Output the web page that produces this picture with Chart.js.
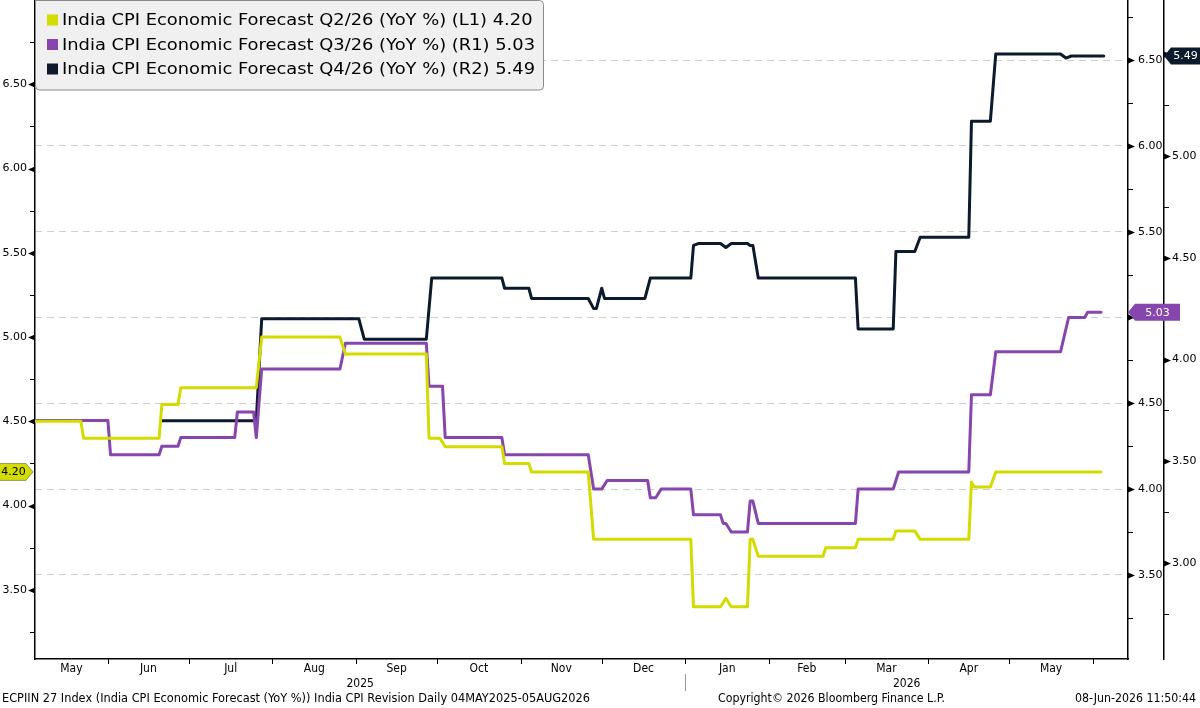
<!DOCTYPE html>
<html>
<head>
<meta charset="utf-8">
<script src="https://cdn.jsdelivr.net/npm/chart.js@4.4.1/dist/chart.umd.min.js"></script>
<style>
html,body{margin:0;padding:0;background:#ffffff;}
#wrap{width:1200px;height:708px;position:relative;}
</style>
</head>
<body>
<div id="wrap"><canvas id="c" width="1200" height="708"></canvas></div>
<script>
// ---------------- DATA ----------------
const q2Label = 'India CPI Economic Forecast Q2/26 (YoY %) (L1)';
const q2Dates = ['2025-05-05','2025-05-22','2025-05-23','2025-06-20','2025-06-21','2025-06-27','2025-06-28','2025-07-26','2025-07-28','2025-08-26','2025-08-28','2025-09-27','2025-09-28','2025-10-02','2025-10-04','2025-10-25','2025-10-26','2025-11-04','2025-11-05','2025-11-26','2025-11-28','2026-01-03','2026-01-04','2026-01-14','2026-01-16','2026-01-18','2026-01-24','2026-01-25','2026-01-26','2026-01-28','2026-02-21','2026-02-22','2026-03-05','2026-03-06','2026-03-19','2026-03-20','2026-03-27','2026-03-29','2026-04-16','2026-04-17','2026-04-18','2026-04-24','2026-04-26','2026-06-04'];
const q2Values = [4.50,4.50,4.40,4.40,4.60,4.60,4.70,4.70,5.00,5.00,4.90,4.90,4.40,4.40,4.35,4.35,4.25,4.25,4.20,4.20,3.80,3.80,3.40,3.40,3.45,3.40,3.40,3.80,3.80,3.70,3.70,3.75,3.75,3.80,3.80,3.85,3.85,3.80,3.80,4.14,4.11,4.11,4.20,4.20];

const q3Label = 'India CPI Economic Forecast Q3/26 (YoY %) (R1)';
const q3Dates = ['2025-05-05','2025-06-01','2025-06-02','2025-06-20','2025-06-21','2025-06-27','2025-06-28','2025-07-18','2025-07-19','2025-07-25','2025-07-26','2025-07-28','2025-08-26','2025-08-28','2025-09-27','2025-09-28','2025-10-03','2025-10-04','2025-10-25','2025-10-26','2025-11-26','2025-11-28','2025-12-01','2025-12-03','2025-12-18','2025-12-19','2025-12-21','2025-12-23','2026-01-03','2026-01-04','2026-01-14','2026-01-15','2026-01-16','2026-01-18','2026-01-24','2026-01-25','2026-01-26','2026-01-28','2026-03-05','2026-03-06','2026-03-19','2026-03-21','2026-04-16','2026-04-17','2026-04-24','2026-04-26','2026-05-20','2026-05-23','2026-05-29','2026-05-30','2026-06-04'];
const q3Values = [4.40,4.40,4.20,4.20,4.25,4.25,4.30,4.30,4.45,4.45,4.30,4.70,4.70,4.85,4.85,4.60,4.60,4.30,4.30,4.20,4.20,4.00,4.00,4.05,4.05,3.95,3.95,4.00,4.00,3.85,3.85,3.80,3.80,3.75,3.75,3.93,3.93,3.80,3.80,4.00,4.00,4.10,4.10,4.55,4.55,4.80,4.80,5.00,5.00,5.03,5.03];

const q4Label = 'India CPI Economic Forecast Q4/26 (YoY %) (R2)';
const q4Dates = ['2025-06-21','2025-07-26','2025-07-28','2025-09-02','2025-09-04','2025-09-27','2025-09-29','2025-10-25','2025-10-26','2025-11-04','2025-11-05','2025-11-26','2025-11-28','2025-11-29','2025-12-01','2025-12-02','2025-12-17','2025-12-19','2026-01-03','2026-01-04','2026-01-06','2026-01-14','2026-01-16','2026-01-18','2026-01-24','2026-01-25','2026-01-26','2026-01-28','2026-03-05','2026-03-06','2026-03-19','2026-03-20','2026-03-27','2026-03-29','2026-04-16','2026-04-17','2026-04-24','2026-04-26','2026-05-20','2026-05-22','2026-05-24','2026-06-05'];
const q4Values = [3.70,3.70,4.20,4.20,4.10,4.10,4.40,4.40,4.35,4.35,4.30,4.30,4.25,4.25,4.35,4.30,4.30,4.40,4.40,4.56,4.57,4.57,4.55,4.57,4.57,4.56,4.56,4.40,4.40,4.15,4.15,4.53,4.53,4.60,4.60,5.17,5.17,5.50,5.50,5.48,5.49,5.49];

const monthLabels = ['May','Jun','Jul','Aug','Sep','Oct','Nov','Dec','Jan','Feb','Mar','Apr','May'];
const monthStarts = ['2025-05-01','2025-06-01','2025-07-01','2025-08-01','2025-09-01','2025-10-01','2025-11-01','2025-12-01','2026-01-01','2026-02-01','2026-03-01','2026-04-01','2026-05-01','2026-06-01'];
const yearLabels = ['2025','2026'];
const yearStarts = ['2025-01-01','2026-01-01','2027-01-01'];
const axisStartDate = '2025-05-05';
const axisEndDate = '2026-06-14';

const leftRange = [3.09, 7.0];
const right1Range = [3.01, 6.85];
const right2Range = [2.53, 5.765];

const footerLeft = 'ECPIIN 27 Index (India CPI Economic Forecast (YoY %)) India CPI Revision Daily 04MAY2025-05AUG2026';
const footerMid = 'Copyright\u00A9 2026 Bloomberg Finance L.P.';
const footerRight = '08-Jun-2026 11:50:44';

// ---------------- HELPERS ----------------
const ORIGIN = Date.UTC(2025, 4, 4);
function dayNum(s){ const p = s.split('-').map(Number); return (Date.UTC(p[0], p[1]-1, p[2]) - ORIGIN) / 86400000; }
function toPoints(dates, values){ return dates.map((d,i)=>({x: dayNum(d), y: values[i]})); }

const COL_Q2 = '#d3db00';
const COL_Q3 = '#8646ad';
const COL_Q4 = '#0c1a2c';
const FONT = '"DejaVu Sans", Verdana, sans-serif';
const NARROW = '"Liberation Sans Narrow", "DejaVu Sans Condensed", "Liberation Sans", sans-serif';

const xMin = dayNum(axisStartDate), xMax = dayNum(axisEndDate);
const monthMids = monthLabels.map((m,i)=> (Math.max(dayNum(monthStarts[i]), xMin) + dayNum(monthStarts[i+1])) / 2);

function quarterTicks(min, max){
  const out = [];
  for (let k = Math.ceil(min*4); k <= Math.floor(max*4); k++) {
    const v = k/4;
    if (v - min < 0.03 || max - v < 0.03) continue;
    out.push({value: v});
  }
  return out;
}
function isMajor(v){ return Math.abs(v*2 - Math.round(v*2)) < 1e-6; }
function fmtTick(v){ return isMajor(v) ? Number(v).toFixed(2) : ''; }

function yScale(position, range, weight, padding, gridOn){
  return {
    type: 'linear', position, weight, min: range[0], max: range[1],
    afterBuildTicks: s => { s.ticks = quarterTicks(range[0], range[1]); },
    afterFit: s => { s.width = 36; s.paddingTop = 0; s.paddingBottom = 0; },
    grid: {
      display: gridOn, drawOnChartArea: gridOn, drawTicks: false, lineWidth: 1,
      color: c => (c.tick && isMajor(c.tick.value)) ? '#cfcfcf' : 'rgba(0,0,0,0)'
    },
    border: { display: true, color: '#000', width: 1.5, dash: [7,5] },
    ticks: { padding, color: '#000', font: {family: FONT, size: 11}, callback: v => fmtTick(v), autoSkip: false }
  };
}

function fitText(ctx, text, x, y, width){
  const w = ctx.measureText(text).width;
  ctx.save(); ctx.translate(x, y); ctx.scale(width / w, 1);
  ctx.textAlign = 'left'; ctx.fillText(text, 0, 0); ctx.restore();
}

function tag(ctx, tipX, y, text, fill, color, dir, boxW){
  const h = 17, a = 7;
  ctx.save();
  ctx.beginPath();
  if (dir === 'right') {
    const bx1 = tipX - a, bx0 = bx1 - boxW;
    ctx.moveTo(bx0, y - h/2); ctx.lineTo(bx1, y - h/2); ctx.lineTo(tipX, y);
    ctx.lineTo(bx1, y + h/2); ctx.lineTo(bx0, y + h/2); ctx.closePath();
    ctx.fillStyle = fill; ctx.fill();
    ctx.strokeStyle = 'rgba(0,0,0,0.35)'; ctx.lineWidth = 1; ctx.stroke();
    ctx.fillStyle = color; ctx.font = '11px ' + FONT; ctx.textAlign = 'center'; ctx.textBaseline = 'middle';
    ctx.fillText(text, bx0 + boxW/2 + 1, y + 0.5);
  } else {
    const bx0 = tipX + a, bx1 = bx0 + boxW;
    ctx.moveTo(tipX, y); ctx.lineTo(bx0, y - h/2); ctx.lineTo(bx1, y - h/2);
    ctx.lineTo(bx1, y + h/2); ctx.lineTo(bx0, y + h/2); ctx.closePath();
    ctx.fillStyle = fill; ctx.fill();
    ctx.fillStyle = color; ctx.font = '11px ' + FONT; ctx.textAlign = 'center'; ctx.textBaseline = 'middle';
    ctx.fillText(text, bx0 + boxW/2, y + 0.5);
  }
  ctx.restore();
}

const decor = {
  id: 'decor',
  afterDraw(chart){
    const ctx = chart.ctx, ca = chart.chartArea, sc = chart.scales;
    ctx.save();
    // y-axis tick marks
    [['yL', -1], ['yR1', 1], ['yR2', 1]].forEach(([id, dir]) => {
      const s = sc[id];
      const ax = dir < 0 ? s.right : s.left;
      s.ticks.forEach(t => {
        const py = Math.round(s.getPixelForValue(t.value)) + 0.5;
        ctx.fillStyle = '#000'; ctx.strokeStyle = '#000'; ctx.lineWidth = 1;
        if (isMajor(t.value)) {
          ctx.beginPath(); ctx.moveTo(ax, py - 3); ctx.lineTo(ax + dir*7, py); ctx.lineTo(ax, py + 3); ctx.closePath(); ctx.fill();
        } else {
          ctx.beginPath(); ctx.moveTo(ax, py); ctx.lineTo(ax + dir*5, py); ctx.stroke();
        }
      });
    });
    // x month boundary ticks
    const xs = sc.x;
    ctx.strokeStyle = '#000'; ctx.lineWidth = 1;
    monthStarts.forEach(d => {
      const v = dayNum(d); if (v < xMin || v > xMax) return;
      const px = Math.round(xs.getPixelForValue(v)) + 0.5;
      ctx.beginPath(); ctx.moveTo(px, ca.bottom); ctx.lineTo(px, ca.bottom + 5); ctx.stroke();
    });
    // year labels and separator
    ctx.fillStyle = '#000'; ctx.font = '12px ' + NARROW; ctx.textAlign = 'center'; ctx.textBaseline = 'middle';
    yearLabels.forEach((y, i) => {
      const a = Math.max(dayNum(yearStarts[i]), xMin), b = Math.min(dayNum(yearStarts[i+1]), xMax);
      ctx.fillText(y, (xs.getPixelForValue(a) + xs.getPixelForValue(b)) / 2, 684);
      if (i > 0) {
        const px = Math.round(xs.getPixelForValue(dayNum(yearStarts[i]))) + 0.5;
        ctx.strokeStyle = '#9a9a9a'; ctx.beginPath(); ctx.moveTo(px, 674); ctx.lineTo(px, 691); ctx.stroke();
      }
    });
    // footer
    ctx.fillStyle = '#000'; ctx.font = '12px ' + NARROW; ctx.textBaseline = 'middle';
    fitText(ctx, footerLeft, 2, 699, 588);
    fitText(ctx, footerMid, 718, 699, 227);
    fitText(ctx, footerRight, 1075, 699, 121);

    // legend box
    const lx = 35.5, ly = 0.5, lw = 508, lh = 89.5, r = 4;
    ctx.beginPath();
    ctx.moveTo(lx, ly); ctx.lineTo(lx + lw - r, ly); ctx.quadraticCurveTo(lx + lw, ly, lx + lw, ly + r);
    ctx.lineTo(lx + lw, ly + lh - r); ctx.quadraticCurveTo(lx + lw, ly + lh, lx + lw - r, ly + lh);
    ctx.lineTo(lx + r, ly + lh); ctx.quadraticCurveTo(lx, ly + lh, lx, ly + lh - r); ctx.closePath();
    ctx.fillStyle = '#f0f0f0'; ctx.fill();
    ctx.strokeStyle = '#8a8a8a'; ctx.lineWidth = 1; ctx.stroke();
    const rows = chart.data.datasets.map(ds => ({text: ds.label + ' ' + ds.data[ds.data.length-1].y.toFixed(2), color: ds.borderColor}));
    ctx.font = '16px ' + FONT; ctx.textBaseline = 'middle';
    const maxW = Math.max(...rows.map(r0 => ctx.measureText(r0.text).width));
    const k = 473 / maxW;
    rows.forEach((row, i) => {
      const cy = 20 + i * 24.5;
      ctx.fillStyle = row.color; ctx.fillRect(47, cy - 5.5, 11, 11);
      ctx.fillStyle = '#000';
      ctx.save(); ctx.translate(62, cy + 1); ctx.scale(k, 1); ctx.textAlign = 'left'; ctx.fillText(row.text, 0, 0); ctx.restore();
    });

    // value tags
    const ds = chart.data.datasets;
    const lastOf = i => ds[i].data[ds[i].data.length-1].y;
    tag(ctx, sc.yL.right - 2, sc.yL.getPixelForValue(lastOf(0)), lastOf(0).toFixed(2), COL_Q2, '#000', 'right', 27);
    tag(ctx, sc.yR1.left, sc.yR1.getPixelForValue(lastOf(1)), lastOf(1).toFixed(2), COL_Q3, '#fff', 'left', 45);
    tag(ctx, sc.yR2.left, sc.yR2.getPixelForValue(lastOf(2)), lastOf(2).toFixed(2), COL_Q4, '#fff', 'left', 29);
    ctx.restore();
  }
};

const lineStyle = { fill: false, tension: 0, pointRadius: 0, borderWidth: 3, borderJoinStyle: 'round', borderCapStyle: 'round' };

new Chart(document.getElementById('c'), {
  type: 'line',
  data: {
    datasets: [
      Object.assign({ label: q2Label, data: toPoints(q2Dates, q2Values), borderColor: COL_Q2, backgroundColor: COL_Q2, yAxisID: 'yL' }, lineStyle),
      Object.assign({ label: q3Label, data: toPoints(q3Dates, q3Values), borderColor: COL_Q3, backgroundColor: COL_Q3, yAxisID: 'yR1' }, lineStyle),
      Object.assign({ label: q4Label, data: toPoints(q4Dates, q4Values), borderColor: COL_Q4, backgroundColor: COL_Q4, yAxisID: 'yR2' }, lineStyle)
    ]
  },
  options: {
    responsive: false, animation: false, devicePixelRatio: 1,
    layout: { padding: 0 },
    plugins: { legend: { display: false }, tooltip: { enabled: false }, title: { display: false } },
    scales: {
      x: {
        type: 'linear', position: 'bottom', min: xMin, max: xMax,
        afterBuildTicks: s => { s.ticks = monthMids.map(v => ({value: v})); },
        afterFit: s => { s.height = 49; s.paddingLeft = 0; s.paddingRight = 0; },
        grid: { display: false, drawTicks: false },
        border: { display: true, color: '#000', width: 1.5 },
        ticks: { autoSkip: false, maxRotation: 0, minRotation: 0, padding: 3, color: '#000', font: {family: NARROW, size: 12}, callback: (v, i) => monthLabels[i] }
      },
      yL: Object.assign(yScale('left', leftRange, 0, 8, false), { afterFit: s => { s.width = 35; s.paddingTop = 0; s.paddingBottom = 0; } }),
      yR1: yScale('right', right1Range, 0, 10, true),
      yR2: yScale('right', right2Range, 1, 8, false)
    }
  },
  plugins: [decor]
});
</script>
</body>
</html>
